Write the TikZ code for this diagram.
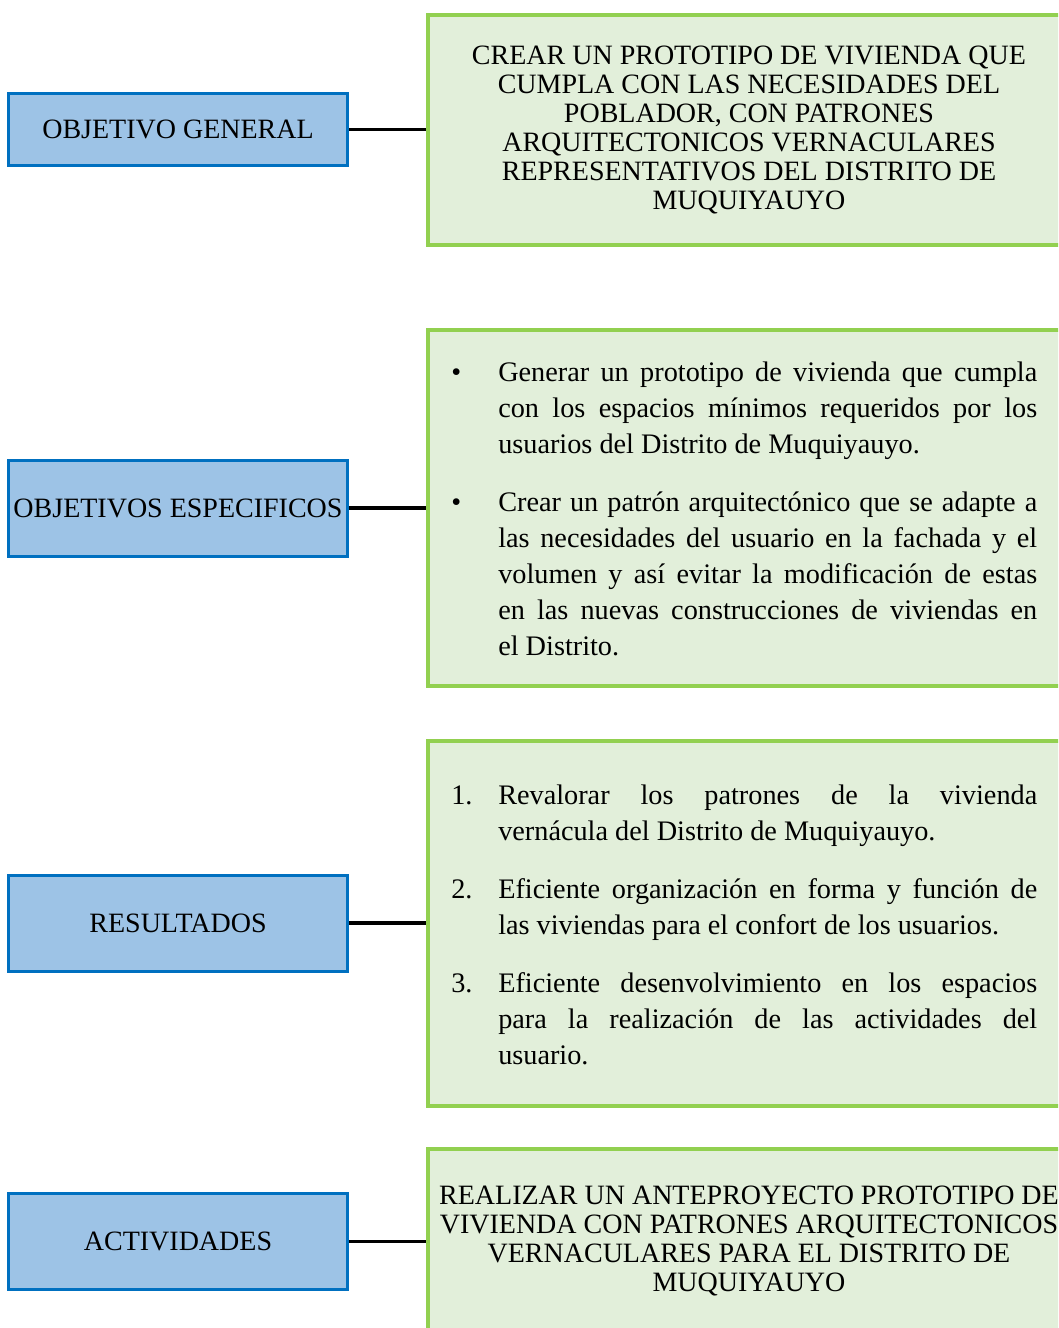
\documentclass[tikz,border=0pt]{standalone}
\usepackage{fontspec}
\setmainfont{Liberation Serif}
\usepackage{tikz}

\definecolor{boxblue}{HTML}{0070C0}
\definecolor{fillblue}{HTML}{9DC3E6}
\definecolor{boxgreen}{HTML}{92D050}
\definecolor{fillgreen}{HTML}{E2EFDA}

\newcommand{\capsfont}{\fontsize{21}{21.75}\selectfont}
\newcommand{\bodyfont}{\fontsize{21.2}{27}\selectfont}
\newcommand{\listitem}[2]{\noindent\hangindent=35.25pt\hangafter=1\hbox to 35.25pt{#1\hfil}#2\par}

\tikzset{
    leftbox/.style={draw=boxblue, fill=fillblue, line width=2.25pt, minimum width=254.25pt, minimum height=72pt, inner sep=0pt, font=\capsfont},
    rightbox/.style={draw=boxgreen, fill=fillgreen, line width=3pt, minimum width=481.5pt, inner sep=0pt, align=center, font=\capsfont},
    listtext/.style={anchor=west, text width=439.5pt, inner sep=0pt, align=justify, font=\bodyfont},
    link/.style={line width=2.6pt}
}

\begin{document}
\begin{tikzpicture}[x=0.75pt, y=-0.75pt]
    \useasboundingbox (0,0) rectangle (1058,1328);
    \clip (0,0) rectangle (1058,1328);

    \node[leftbox, minimum height=54pt] (gen) at (178,129.5) {OBJETIVO GENERAL};
    \node[leftbox] (esp) at (178,508) {OBJETIVOS ESPECIFICOS};
    \node[leftbox] (res) at (178,923) {RESULTADOS};
    \node[leftbox] (act) at (178,1241.3) {ACTIVIDADES};

    \node[rightbox, minimum height=173pt] (genr) at (749,130) {CREAR UN PROTOTIPO DE VIVIENDA QUE\\ CUMPLA CON LAS NECESIDADES DEL\\ POBLADOR, CON PATRONES\\ ARQUITECTONICOS VERNACULARES\\ REPRESENTATIVOS DEL DISTRITO DE\\ MUQUIYAUYO};
    \node[rightbox, minimum height=266.5pt] (espr) at (749,508) {};
    \node[rightbox, minimum height=274pt] (resr) at (749,923.7) {};
    \node[rightbox, minimum height=138.5pt] (actr) at (749,1241.3) {REALIZAR UN ANTEPROYECTO PROTOTIPO DE\\ VIVIENDA CON PATRONES ARQUITECTONICOS\\ VERNACULARES PARA EL DISTRITO DE\\ MUQUIYAUYO};

    \node[listtext] (esptxt) at (451,509) {\hyphenpenalty=10000
        \listitem{\textbullet}{Generar un prototipo de vivienda que cumpla\linebreak con los espacios mínimos requeridos por los\linebreak usuarios del Distrito de Muquiyauyo.}
        \vspace{16.5pt}
        \listitem{\textbullet}{Crear un patrón arquitectónico que se adapte a\linebreak las necesidades del usuario en la fachada y el\linebreak volumen y así evitar la modificación de estas\linebreak en las nuevas construcciones de viviendas en\linebreak el Distrito.}};
    \node[listtext] (restxt) at (451,925) {\hyphenpenalty=10000
        \listitem{1.}{Revalorar los patrones de la vivienda\linebreak vernácula del Distrito de Muquiyauyo.}
        \vspace{16.5pt}
        \listitem{2.}{Eficiente organización en forma y función de\linebreak las viviendas para el confort de los usuarios.}
        \vspace{16.5pt}
        \listitem{3.}{Eficiente desenvolvimiento en los espacios\linebreak para la realización de las actividades del\linebreak usuario.}};

    \draw[link] (gen.east) -- (gen.east -| genr.west);
    \draw[link] (esp.east) -- (esp.east -| espr.west);
    \draw[link] (res.east) -- (res.east -| resr.west);
    \draw[link] (act.east) -- (act.east -| actr.west);
\end{tikzpicture}
\end{document}
